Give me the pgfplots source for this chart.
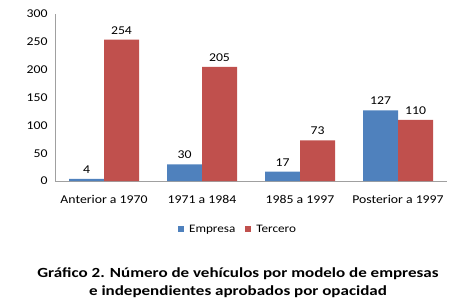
\documentclass[border=0pt]{standalone}
\usepackage{pgfplots}
\pgfplotsset{compat=1.18}
\usepackage{fontspec}
\setmainfont{Carlito}
\newfontfamily\chartfont[FakeStretch=1.15]{Carlito}
\newfontfamily\capfont[FakeStretch=1.22]{Carlito}
\definecolor{cblue}{HTML}{4F81BD}
\definecolor{cred}{HTML}{C0504D}
\definecolor{axgray}{HTML}{A0A0A0}
\begin{document}
\begin{tikzpicture}[x=1bp,y=1bp]
\useasboundingbox (0,0) rectangle (449,302);
\begin{axis}[
  at={(55bp,121bp)}, anchor=south west,
  scale only axis, width=392bp, height=167bp,
  ybar=0pt, bar width=35bp,
  xmin=-0.5, xmax=3.5, ymin=0, ymax=300,
  ytick={0,50,...,300},
  xtick={0,1,2,3},
  xticklabels={Anterior a 1970,1971 a 1984,1985 a 1997,Posterior a 1997},
  major tick length=0pt,
  axis x line*=bottom, axis y line*=left,
  axis line style={axgray},
  x axis line style={-}, y axis line style={-},
  ticklabel style={font=\chartfont\fontsize{12}{14}\selectfont, text=black},
  /pgf/number format/assume math mode=true,
  yticklabel style={xshift=-4bp},
  xticklabel style={yshift=-11bp},
  nodes near coords,
  nodes near coords style={font=\chartfont\fontsize{12}{14}\selectfont, text=black, yshift=2bp},
  legend style={at={(0.467,-0.29)}, anchor=center, legend columns=2, draw=none,
    font=\chartfont\fontsize{11.5}{14}\selectfont, column sep=3bp,
    /tikz/every even column/.append style={column sep=8bp}},
  legend image code/.code={\fill[#1] (0bp,-3bp) rectangle (6bp,3bp);},
]
\addplot[fill=cblue, draw=none] coordinates {(0,4) (1,30) (2,17) (3,127)};
\addplot[fill=cred, draw=none] coordinates {(0,254) (1,205) (2,73) (3,110)};
\legend{Empresa,Tercero}
\end{axis}
\node[font=\capfont\bfseries\fontsize{14}{18}\selectfont, anchor=base] at (238,25)
 {Gráfico 2. Número de vehículos por modelo de empresas};
\node[font=\capfont\bfseries\fontsize{14}{18}\selectfont, anchor=base] at (238,7)
 {e independientes aprobados por opacidad};
\end{tikzpicture}
\end{document}
